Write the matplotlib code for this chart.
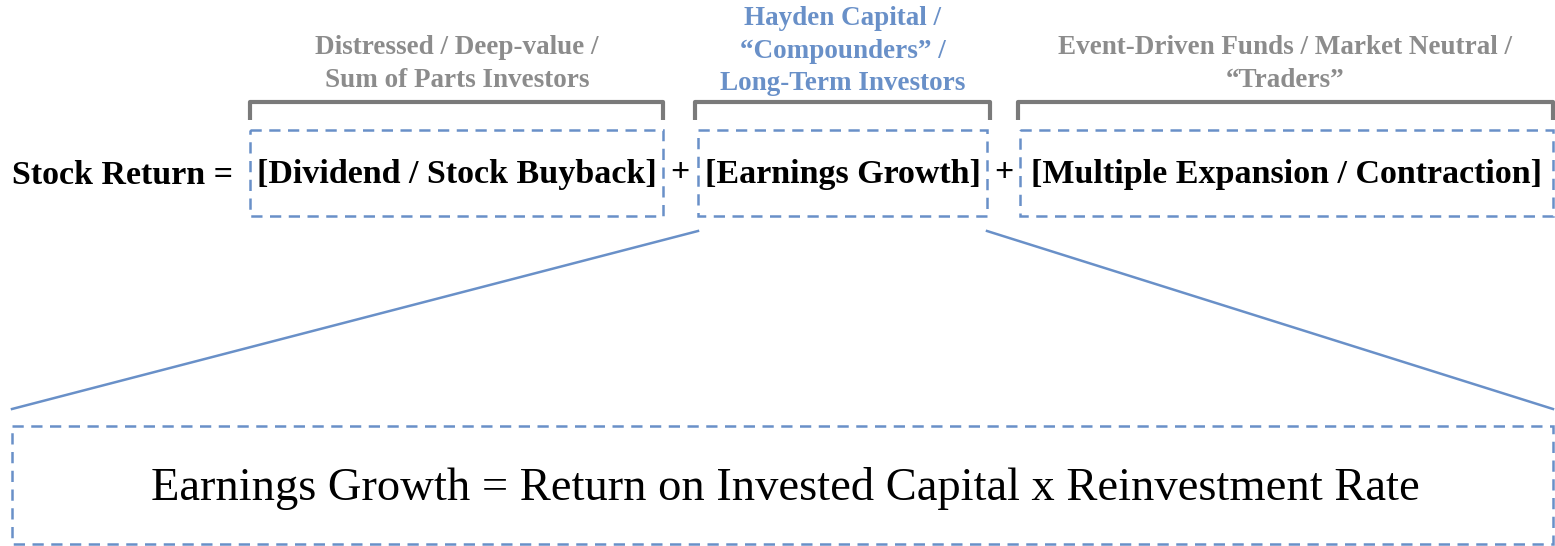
import matplotlib
matplotlib.use("Agg")
import matplotlib.pyplot as plt
from matplotlib.patches import Rectangle

W, H = 1555, 546
BLUE = "#6990c8"
GRAY = "#8c8c8c"
BGRAY = "#7a7a7a"
FONT = ["Liberation Serif", "DejaVu Serif"]

# content
lead = "Stock Return ="
terms = ["[Dividend / Stock Buyback]", "[Earnings Growth]", "[Multiple Expansion / Contraction]"]
investors = ["Distressed / Deep-value /\nSum of Parts Investors",
             "Hayden Capital /\n\u201cCompounders\u201d /\nLong-Term Investors",
             "Event-Driven Funds / Market Neutral /\n\u201cTraders\u201d"]
investor_colors = [GRAY, BLUE, GRAY]
formula = "Earnings Growth = Return on Invested Capital x Reinvestment Rate"

# layout (pixels)
boxes_x = [(250, 663), (698, 987), (1020, 1553)]
brackets_x = [(250, 663), (695, 990), (1018, 1553)]
label_cx = [457, 843, 1285]
label_y = [64, 51, 64]

fig = plt.figure(figsize=(W / 100, H / 100), dpi=100)
ax = fig.add_axes([0, 0, 1, 1])
ax.set_xlim(0, W)
ax.set_ylim(H, 0)
ax.axis("off")

MS = 24.5
# main equation
ax.text(12, 175, lead, fontsize=MS, fontweight="bold", family=FONT, ha="left", va="center")
for (x0, x1), t in zip(boxes_x, terms):
    ax.add_patch(Rectangle((x0, 130), x1 - x0, 86, fill=False, ec=BLUE, lw=1.8, ls=(0, (4.5, 3))))
    ax.text((x0 + x1) / 2, 175, t, fontsize=MS, fontweight="bold", family=FONT, ha="center", va="center")
for px in [680, 1004]:
    ax.text(px, 173, "+", fontsize=MS, fontweight="bold", family=FONT, ha="center", va="center")

# brackets
for (x0, x1) in brackets_x:
    ax.plot([x0, x0, x1, x1], [120, 102, 102, 120], color=BGRAY, lw=3, solid_joinstyle="round", solid_capstyle="butt")

# investor labels
for cx, cy, t, c in zip(label_cx, label_y, investors, investor_colors):
    ax.text(cx, cy, t, fontsize=19.5, fontweight="bold", family=FONT, color=c, ha="center", va="center", linespacing=1.38)

# zoom lines
ax.plot([698, 12], [231, 409], color=BLUE, lw=1.8)
ax.plot([987, 1553], [231, 409], color=BLUE, lw=1.8)

# bottom box
ax.add_patch(Rectangle((12, 426), 1541, 118, fill=False, ec=BLUE, lw=1.8, ls=(0, (4.5, 3))))
ax.text(785, 488, formula, fontsize=33.5, family=FONT, ha="center", va="center")

fig.savefig("out.png", dpi=100)
